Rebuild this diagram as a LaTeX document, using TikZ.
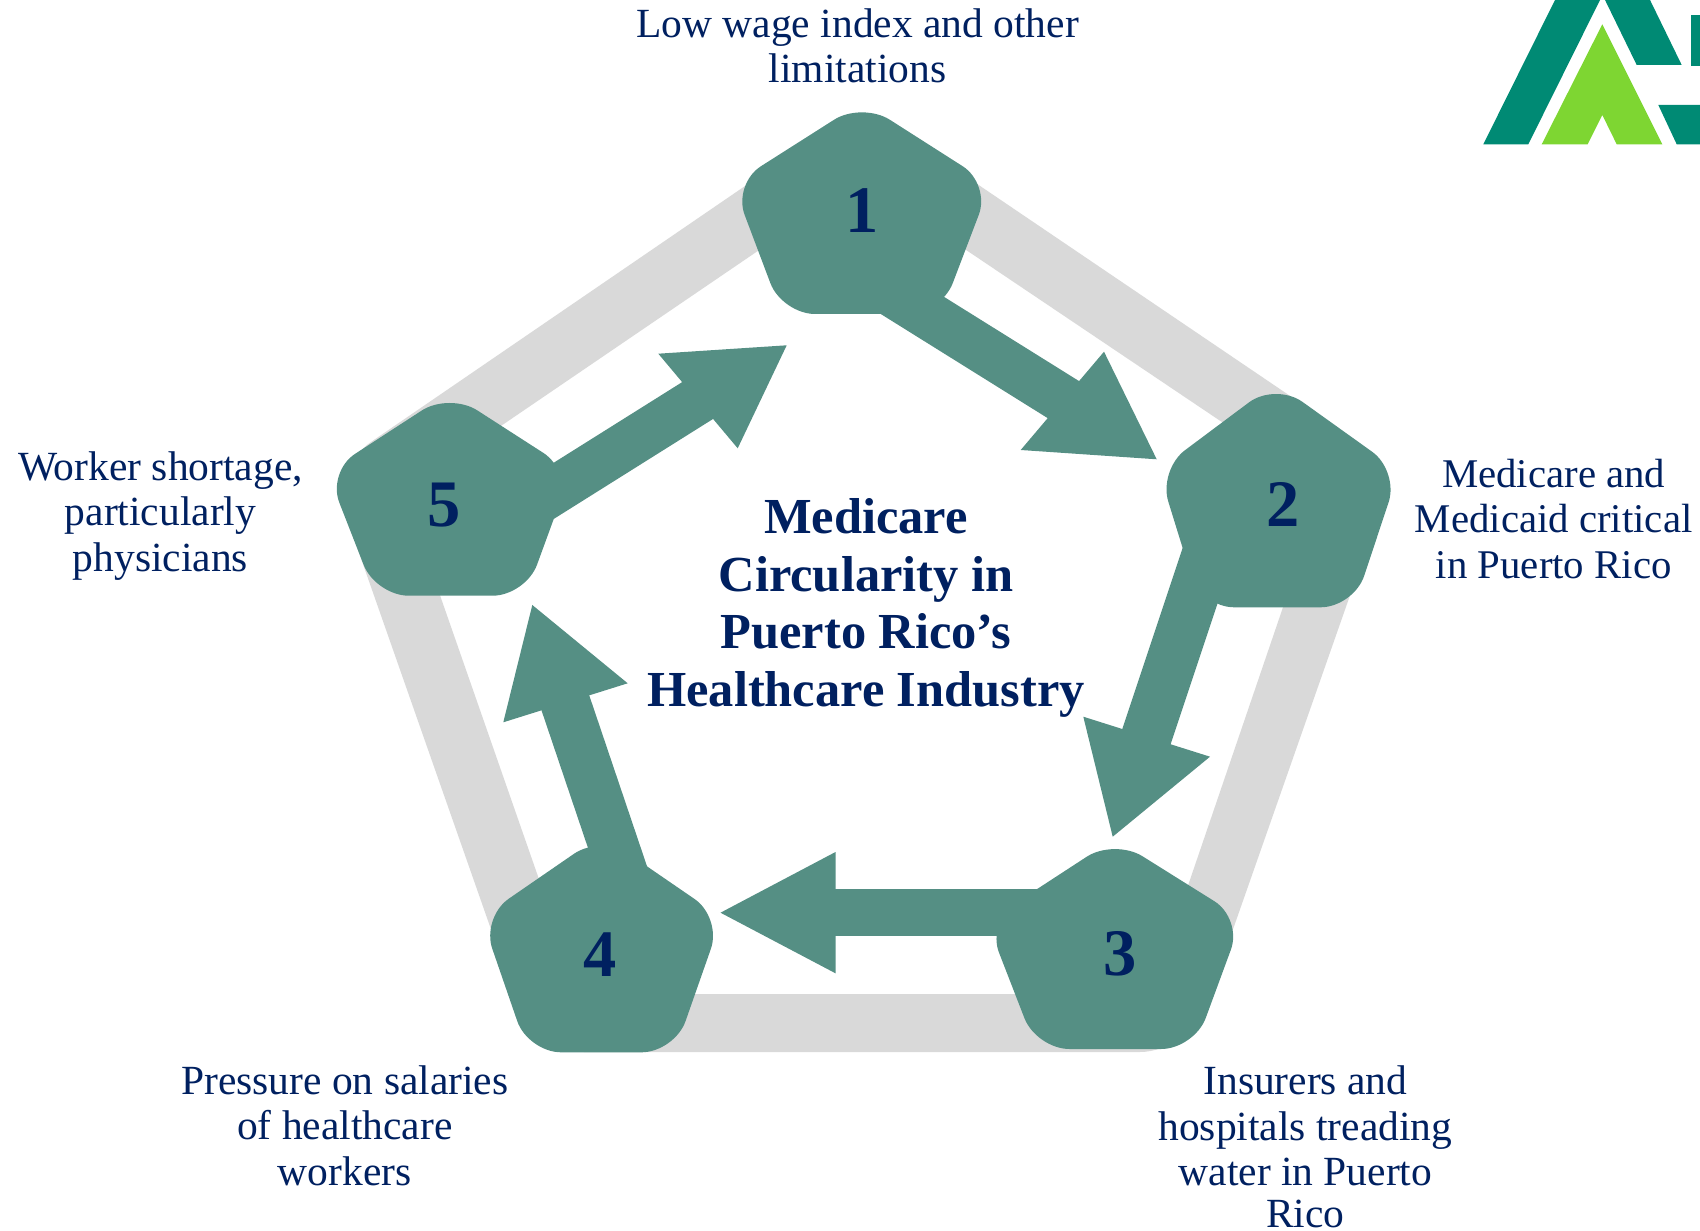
\documentclass[tikz,border=0pt]{standalone}
\usepackage{fontspec}
\setmainfont{Liberation Serif}
\definecolor{teal1}{HTML}{558F84}
\definecolor{band}{HTML}{D9D9D9}
\definecolor{navy}{HTML}{002060}
\definecolor{logod}{HTML}{008A74}
\definecolor{logol}{HTML}{7ED632}
\tikzset{
  penta/.style={fill=teal1,rounded corners=0.33cm},
  flow/.style={draw=teal1},
  tiphead/.style={fill=teal1},
  num/.style={text=navy,inner sep=0pt,font=\fontsize{18.9}{20}\selectfont\bfseries},
  lab/.style={text=navy,inner sep=0pt,align=center,font=\fontsize{11.8}{12.95}\selectfont},
  ttl/.style={text=navy,inner sep=0pt,align=center,font=\fontsize{14.35}{16.45}\selectfont\bfseries}
}
\begin{document}
\begin{tikzpicture}[x=0.01cm,y=-0.01cm]
\useasboundingbox (0,0) rectangle (1700,1231);
% grey ring
\fill[band,even odd rule,rounded corners=0.5cm] (862,106) -- (1395,467) -- (1190,1052) -- (534,1052) -- (330,470) -- cycle
  (862,180) -- (1323,490) -- (1151,994) -- (579,994) -- (404,492) -- cycle;
% end points of the connectors
\coordinate (s1) at (862,274);    \coordinate (b1) at (1080,410);     \coordinate (e1) at (1156.7,459.3);
\coordinate (s2) at (1212,540);   \coordinate (b2) at (1140.4,754.7); \coordinate (e2) at (1112.7,836.7);
\coordinate (s3) at (1100,912.5); \coordinate (b3) at (825,912.5);    \coordinate (e3) at (720.5,912.7);
\coordinate (s4) at (632,900);    \coordinate (b4) at (559,684);      \coordinate (e4) at (532.3,605);
\coordinate (s5) at (528,507);    \coordinate (b5) at (714.4,390);    \coordinate (e5) at (786.7,345.3);
% connectors: shaft, then head
\draw[flow,line width=0.48cm] (s1) -- (b1);
\draw[flow,line width=0.506cm] (s2) -- (b2);
\draw[flow,line width=0.464cm] (s3) -- (b3);
\draw[flow,line width=0.50cm] (s4) -- (b4);
\draw[flow,line width=0.476cm] (s5) -- (b5);
\fill[tiphead] (1104,351.7) -- (e1) -- (1020.7,450) -- cycle;
\fill[tiphead] (1083.3,716.7) -- (e2) -- (1210,756.7) -- cycle;
\fill[tiphead] (835.5,852) -- (e3) -- (835.5,973.3) -- cycle;
\fill[tiphead] (503.3,722.3) -- (e4) -- (627.7,683.3) -- cycle;
\fill[tiphead] (658.3,353.7) -- (e5) -- (737.7,448.3) -- cycle;
% pentagons
\path[penta] (861.5,314) -- (782,314) -- (733,184) -- (862,102) -- (990.5,184) -- (941,314) -- cycle;
\path[penta] (1277,607.3) -- (1201,607.3) -- (1158.5,470) -- (1275.5,382.6) -- (1399,471) -- (1353.7,607.3) -- cycle;
\path[penta] (1115,1049) -- (1036.4,1049) -- (987,921.7) -- (1114.4,838.7) -- (1242.3,918.7) -- (1194.3,1049) -- cycle;
\path[penta] (601,1052.3) -- (528,1052.3) -- (481.5,917.5) -- (601.3,835) -- (721.8,917.7) -- (674.6,1052.3) -- cycle;
\path[penta] (450,595.7) -- (375.7,595.7) -- (327.3,471.9) -- (449.5,392.5) -- (571.3,470.9) -- (525.7,595.7) -- cycle;
% numbers
\node[num] (n1) at (861.7,210.7) {1};
\node[num] (n2) at (1282.7,505) {2};
\node[num] (n3) at (1120,954.3) {3};
\node[num] (n4) at (600.2,955) {4};
\node[num] (n5) at (444.5,505) {5};
% labels
\node[ttl] (title) at (866,608) {Medicare\\Circularity in\\Puerto Rico’s\\Healthcare Industry};
\node[lab] (l1) at (857.6,45.6) {Low wage index and other\\limitations};
\node[lab,font=\fontsize{11.6}{12.95}\selectfont] (l2) at (1553.7,519) {Medicare and\\Medicaid critical\\in Puerto Rico};
\node[lab] (l3) at (1305.4,1147) {Insurers and\\hospitals treading\\water in Puerto\\[-1pt]Rico};
\node[lab] (l4) at (344.8,1125.5) {Pressure on salaries\\of healthcare\\workers};
\node[lab] (l5) at (160.5,516) {Worker shortage,\\particularly\\physicians};
% logo
\fill[logod] (1483.3,144.3) -- (1528.3,144.3) -- (1600,0) -- (1555,0) -- cycle;
\fill[logod] (1605,0) -- (1636.7,65) -- (1681.7,65) -- (1650,0) -- cycle;
\fill[logod] (1691,15) rectangle (1700,66);
\fill[logod] (1658.3,105) -- (1700,105) -- (1700,144.3) -- (1676.7,144.3) -- cycle;
\fill[logol] (1602.3,24.3) -- (1662.3,144.3) -- (1616.7,144.3) -- (1602.3,115) -- (1587.7,144.3) -- (1541.7,144.3) -- cycle;
\end{tikzpicture}
\end{document}
